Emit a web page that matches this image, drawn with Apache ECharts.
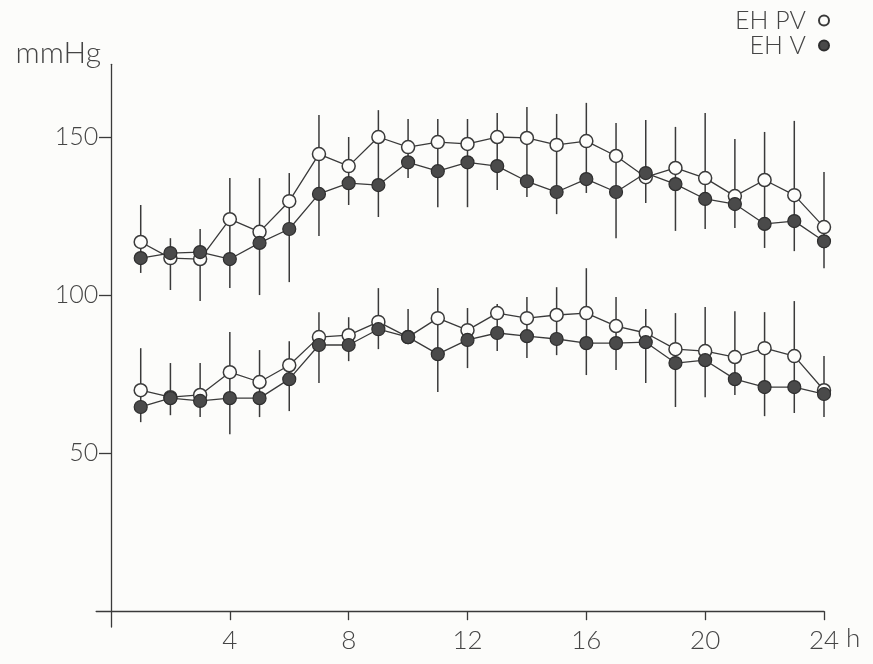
<!DOCTYPE html>
<html>
<head>
<meta charset="utf-8">
<script src="https://cdn.jsdelivr.net/npm/echarts@6/dist/echarts.min.js"></script>
<style>
  html, body { margin: 0; padding: 0; background: #fcfcfa; }
  #chart { width: 873px; height: 664px; }
</style>
</head>
<body>
<div id="chart"></div>
<script>
// Hours of the day (hourly means)
const hours = [1, 2, 3, 4, 5, 6, 7, 8, 9, 10, 11, 12, 13, 14, 15, 16, 17, 18, 19, 20, 21, 22, 23, 24];

// Systolic pressure, mmHg
const pvSys   = [116.8, 111.7, 111.4, 124.0, 120.0, 129.7, 144.6, 140.8, 150.0, 146.8, 148.4, 147.8,
                 150.0, 149.7, 147.5, 148.7, 144.0, 137.3, 140.2, 137.0, 131.3, 136.4, 131.6, 121.5];
const vSys    = [111.7, 113.3, 113.6, 111.4, 116.5, 120.9, 132.0, 135.4, 134.8, 142.0, 139.2, 142.0,
                 140.8, 136.0, 132.6, 136.7, 132.6, 138.6, 135.1, 130.4, 128.8, 122.5, 123.4, 117.0];
const pvSysSd = [11.7, 6.3, 9.5, 13.0, 17.0, 8.9, 12.4, 9.2, 8.5, 8.9, 7.3, 7.9,
                 7.6, 9.8, 9.8, 12.1, 10.4, 18.1, 13.0, 20.6, 18.1, 15.2, 23.5, 17.4];
const vSysSd  = [4.7, 11.7, 15.5, 9.2, 16.5, 16.8, 13.3, 6.9, 10.1, 5.0, 11.4, 14.2,
                 7.6, 5.0, 7.0, 4.4, 14.6, 9.5, 14.8, 9.5, 7.6, 7.6, 9.5, 8.5];

// Diastolic pressure, mmHg
const pvDia   = [69.9, 67.7, 68.4, 75.6, 72.5, 77.8, 86.7, 87.3, 91.5, 86.7, 92.7, 88.9,
                 94.3, 92.7, 93.7, 94.3, 90.2, 88.0, 82.9, 82.3, 80.4, 83.2, 80.7, 69.9];
const vDia    = [64.6, 67.4, 66.5, 67.4, 67.4, 73.4, 84.2, 84.2, 89.2, 86.7, 81.3, 85.8,
                 88.0, 87.0, 86.1, 84.8, 84.8, 85.1, 78.5, 79.4, 73.4, 70.9, 70.9, 68.7];
const pvDiaSd = [13.3, 10.8, 10.1, 12.7, 10.1, 7.6, 7.9, 5.7, 10.7, 8.9, 9.5, 7.0,
                 2.9, 6.7, 8.8, 14.2, 9.2, 7.6, 11.4, 13.9, 14.5, 11.4, 17.4, 10.8];
const vDiaSd  = [4.8, 5.4, 5.1, 11.4, 6.0, 10.1, 12.0, 5.1, 6.3, 1.0, 12.0, 8.9,
                 5.7, 6.9, 5.1, 10.1, 8.5, 12.9, 13.9, 11.7, 5.0, 9.2, 8.2, 7.3];

const xTicks = [4, 8, 12, 16, 20, 24];
const yTicks = [50, 100, 150];

const ink = '#3a3a3a';
const textInk = '#454545';
const font = 'Lato, "Open Sans", sans-serif';

const pair = (vals) => hours.map((h, i) => [h, vals[i]]);

// One vertical bar per hour: PV + SD upward, V - SD downward
const bars = (pv, pvSd, v, vSd) =>
  hours.map((h, i) => [h, Math.max(pv[i] + pvSd[i], v[i]), Math.min(v[i] - vSd[i], pv[i])]);

function renderBar(params, api) {
  const top = api.coord([api.value(0), api.value(1)]);
  const bot = api.coord([api.value(0), api.value(2)]);
  return {
    type: 'line',
    shape: { x1: top[0], y1: top[1], x2: bot[0], y2: bot[1] },
    style: { stroke: ink, lineWidth: 1.5 }
  };
}

const openStyle = { color: '#fdfdfb', borderColor: ink, borderWidth: 1.5 };
const fillStyle = { color: '#4a4a4a', borderColor: '#2e2e2e', borderWidth: 1.2 };

function lineSeries(name, data, style, z) {
  return {
    name, type: 'line', data, z,
    symbol: 'circle', symbolSize: 13,
    lineStyle: { color: ink, width: 1.3 },
    itemStyle: style,
    animation: false
  };
}

const chart = echarts.init(document.getElementById('chart'));
chart.setOption({
  backgroundColor: '#fcfcfa',
  animation: false,
  grid: { left: 96.15, right: 49, top: 64.3, bottom: 37, containLabel: false },
  legend: {
    orient: 'vertical', right: 38, top: 3, align: 'right',
    itemWidth: 10, itemHeight: 10, itemGap: 0,
    textStyle: { fontFamily: font, fontSize: 25, color: textInk, fontWeight: 300,
                 padding: [0, 8, 0, 0] },
    data: [{ name: 'EH PV', icon: 'circle' }, { name: 'EH V', icon: 'circle' }]
  },
  xAxis: {
    type: 'value', min: -0.5, max: 24,
    name: 'h', nameLocation: 'end', nameGap: 22,
    nameTextStyle: { fontFamily: font, fontSize: 26, color: textInk, fontWeight: 300,
                     verticalAlign: 'top', padding: [14, 0, 0, 0] },
    axisLine: { onZero: true, lineStyle: { color: ink, width: 1.3 } },
    axisTick: { customValues: xTicks, length: 9, lineStyle: { color: ink, width: 1.3 } },
    axisLabel: { customValues: xTicks, margin: 1, fontFamily: font, fontSize: 26,
                 color: textInk, fontWeight: 300 },
    splitLine: { show: false }
  },
  yAxis: {
    type: 'value', min: -5, max: 173,
    name: 'mmHg', nameLocation: 'end', nameGap: -4,
    nameTextStyle: { fontFamily: font, fontSize: 30, color: textInk, fontWeight: 300,
                     align: 'right', padding: [0, 10, 0, 0] },
    axisLine: { onZero: true, lineStyle: { color: ink, width: 1.3 } },
    axisTick: { customValues: yTicks, length: 12, lineStyle: { color: ink, width: 1.3 } },
    axisLabel: { customValues: yTicks, margin: -2, fontFamily: font, fontSize: 25,
                 color: textInk, fontWeight: 300 },
    splitLine: { show: false }
  },
  series: [
    { type: 'custom', renderItem: renderBar, data: bars(pvSys, pvSysSd, vSys, vSysSd),
      encode: { x: 0, y: [1, 2] }, z: 1, silent: true },
    { type: 'custom', renderItem: renderBar, data: bars(pvDia, pvDiaSd, vDia, vDiaSd),
      encode: { x: 0, y: [1, 2] }, z: 1, silent: true },
    lineSeries('EH PV', pair(pvSys), openStyle, 3),
    lineSeries('EH V', pair(vSys), fillStyle, 4),
    lineSeries('EH PV', pair(pvDia), openStyle, 3),
    lineSeries('EH V', pair(vDia), fillStyle, 4)
  ]
});
</script>
</body>
</html>
